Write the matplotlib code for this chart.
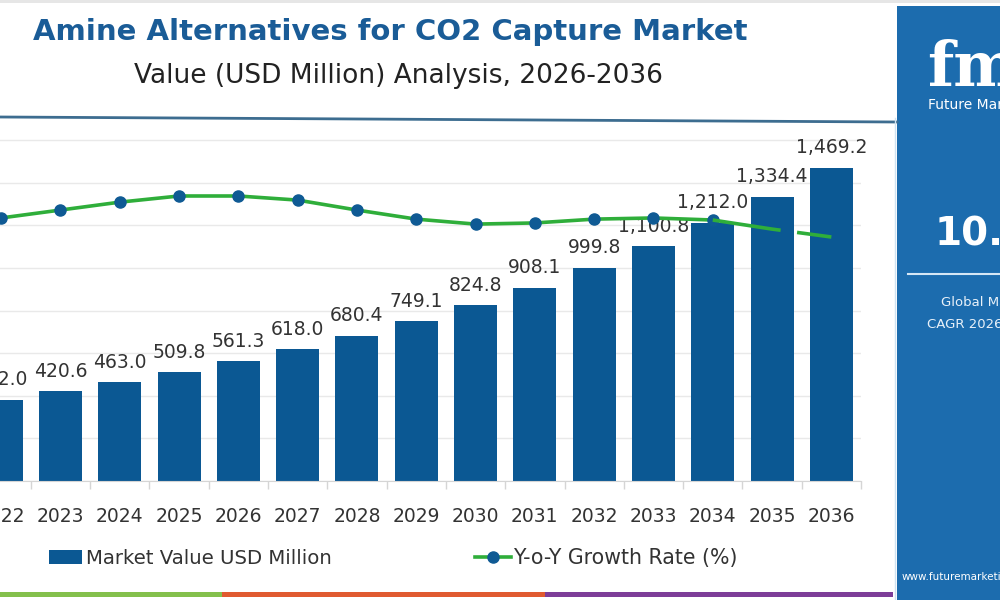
import matplotlib
matplotlib.use("Agg")
import matplotlib.pyplot as plt
from matplotlib.patches import Rectangle
from matplotlib.lines import Line2D

# ---------------- data ----------------
years = ["2022", "2023", "2024", "2025", "2026", "2027", "2028", "2029",
         "2030", "2031", "2032", "2033", "2034", "2035", "2036"]
market_value = [382.0, 420.6, 463.0, 509.8, 561.3, 618.0, 680.4, 749.1,
                824.8, 908.1, 999.8, 1100.8, 1212.0, 1334.4, 1469.2]
yoy_growth = [8.98, 9.25, 9.52, 9.73, 9.73, 9.59, 9.25, 8.94,
              8.77, 8.81, 8.94, 8.98, 8.91, 8.60, 8.33]
solid_until = 12  # index of last solid (marked) growth point

title = "Amine Alternatives for CO2 Capture Market"
subtitle = "Value (USD Million) Analysis, 2026-2036"
legend_bar = "Market Value USD Million"
legend_line = "Y-o-Y Growth Rate (%)"

# ---------------- style ----------------
BAR = "#0b5893"
GREEN = "#2fae3a"
MARK = "#0f5a94"
TITLE_C = "#1a5c97"
TXT = "#333333"
PANEL = "#1c6cae"
FONT = "DejaVu Sans"
plt.rcParams["font.family"] = [FONT]

W, H = 1000, 600
fig = plt.figure(figsize=(W / 100, H / 100), dpi=100)
fig.patch.set_facecolor("white")


def fx(x):
    return x / W


def fy(y):
    return 1 - y / H


# axes placement (pixels): x from -28.5 to 861, y from 481 (0) to 129.5 (1650)
ax = fig.add_axes([fx(-28.5), fy(481), (861 + 28.5) / W, (481 - 129.5) / H])
ax.set_xlim(-0.5, len(years) - 0.5)
ax.set_ylim(0, 1650)
idx = list(range(len(years)))
ax.bar(idx, market_value, width=0.725, color=BAR, zorder=2)
for i, v in enumerate(market_value):
    ax.annotate(f"{v:,.1f}", (i, v), xytext=(0, 10.5), textcoords="offset points",
                ha="center", va="baseline", fontsize=13.5, color=TXT,
                annotation_clip=False)
ax.set_yticks(range(0, 1601, 200))
ax.yaxis.grid(True, color="#e9e9e9", linewidth=1)
ax.set_axisbelow(True)
ax.tick_params(axis="y", left=False, labelleft=False)
ax.set_xticks(idx)
ax.set_xticklabels(years, fontsize=13.5, color=TXT)
ax.tick_params(axis="x", which="major", length=0, pad=19)
ax.set_xticks([i + 0.5 for i in range(-1, len(years))], minor=True)
ax.tick_params(axis="x", which="minor", length=6, color="#d5d5d5", width=1)
for s in ["top", "right", "left"]:
    ax.spines[s].set_visible(False)
ax.spines["bottom"].set_color("#d5d5d5")
ax.patch.set_alpha(0)

ax2 = ax.twinx()
ax2.set_ylim(0, 12)
ax2.axis("off")
ax2.plot(idx[:solid_until + 1], yoy_growth[:solid_until + 1], color=GREEN,
         linewidth=2.6, marker="o", markersize=8, markerfacecolor=MARK,
         markeredgecolor=MARK, zorder=3, solid_capstyle="round")
dl, = ax2.plot(idx[solid_until:], yoy_growth[solid_until:], color=GREEN,
               linewidth=2.6, zorder=3)
dl.set_dashes([19, 4.6])

# ---------------- titles ----------------
fig.text(fx(390), fy(40), title, ha="center", va="baseline", fontsize=21,
         fontweight="bold", color=TITLE_C)
fig.text(fx(398), fy(83), subtitle, ha="center", va="baseline", fontsize=19,
         color="#222222")

# separator line under header
fig.add_artist(Line2D([0, fx(897)], [fy(117), fy(122)], color="#3d6d90",
                      linewidth=2, transform=fig.transFigure))
# top light band
fig.add_artist(Rectangle((0, fy(3)), 1, 3 / H, color="#e6e6e6",
                         transform=fig.transFigure, linewidth=0))

# ---------------- legend ----------------
fig.add_artist(Rectangle((fx(49), fy(564)), 33 / W, 14 / H, color=BAR,
                         transform=fig.transFigure, linewidth=0))
fig.text(fx(86), fy(564), legend_bar, ha="left", va="baseline", fontsize=14.2,
         color=TXT)
fig.add_artist(Line2D([fx(475), fx(511)], [fy(557), fy(557)], color=GREEN,
                      linewidth=2.6, transform=fig.transFigure))
fig.add_artist(Line2D([fx(493)], [fy(557)], marker="o", markersize=8,
                      color=MARK, transform=fig.transFigure))
fig.text(fx(513), fy(564), legend_line, ha="left", va="baseline", fontsize=14.8,
         color=TXT)

# ---------------- bottom colour bands ----------------
for x0, x1, c in [(0, 222, "#84c04c"), (222, 545, "#e05a30"), (545, 893, "#7d3d98")]:
    fig.add_artist(Rectangle((fx(x0), fy(597)), (x1 - x0) / W, 5 / H, color=c,
                             transform=fig.transFigure, linewidth=0))

# ---------------- right info panel ----------------
fig.add_artist(Rectangle((fx(897), 0), 103 / W, fy(6), color=PANEL,
                         transform=fig.transFigure, linewidth=0))
fig.add_artist(Line2D([fx(895), fx(895)], [0, fy(118)], color="#cfe2f1",
                      linewidth=1, transform=fig.transFigure))
fig.text(fx(927), fy(86), "fmi", ha="left", va="baseline", fontsize=44,
         fontweight="bold", family="DejaVu Serif", color="white")
for yy in range(32, 88, 5):
    fig.add_artist(Line2D([fx(920), 1], [fy(yy), fy(yy)], color=PANEL,
                          linewidth=1.1, transform=fig.transFigure))
fig.text(fx(928), fy(109), "Future Market Insights", ha="left", va="baseline",
         fontsize=10, color="white")
fig.text(fx(935), fy(246), "10.7%", ha="left", va="baseline", fontsize=28,
         fontweight="bold", color="white")
fig.add_artist(Line2D([fx(908), 1], [fy(274), fy(274)], color="#d6e7f5",
                      linewidth=1.5, transform=fig.transFigure))
fig.text(fx(941), fy(306), "Global Market Value", ha="left", va="baseline",
         fontsize=9.5, color="#e8f1f9")
fig.text(fx(927), fy(328), "CAGR 2026-2036", ha="left", va="baseline",
         fontsize=9.5, color="#e8f1f9")
fig.text(fx(902), fy(580), "www.futuremarketinsights.com", ha="left",
         va="baseline", fontsize=7.5, color="white")

fig.savefig("out.png", dpi=100)
